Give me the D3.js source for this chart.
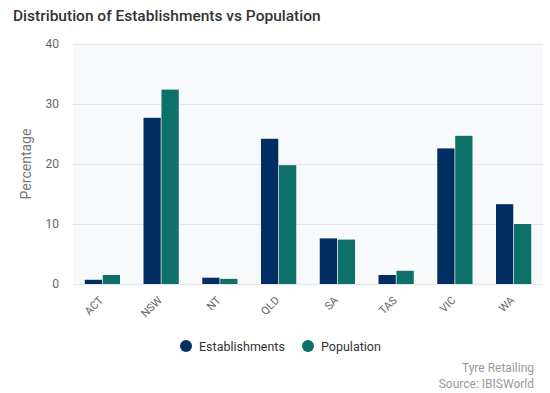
<!DOCTYPE html>
<html><head><meta charset="utf-8">
<script src="https://cdn.jsdelivr.net/npm/d3@7"></script>
<style>body{margin:0;background:#fff;font-family:Roboto,"Noto Sans",sans-serif;}</style>
</head><body>
<svg id="chart" width="550" height="393"></svg>
<script>
const categories = ["ACT","NSW","NT","QLD","SA","TAS","VIC","WA"];
const establishments = [0.7, 27.7, 1.05, 24.2, 7.6, 1.5, 22.6, 13.3];
const population = [1.5, 32.4, 0.85, 19.8, 7.4, 2.2, 24.7, 10.0];
const seriesNames = ["Establishments","Population"];
const seriesColors = ["#022e63","#0d7169"];
const yTicks = [0,10,20,30,40];

const svg = d3.select("#chart");
const m = {l:73, r:543, t:44, b:284};
const x = d3.scaleBand().domain(categories).range([m.l, m.r]).paddingInner(0.4).paddingOuter(0.2);
const xs = d3.scaleBand().domain(seriesNames).range([0, x.bandwidth()]).paddingInner(0.04);
const y = d3.scaleLinear().domain([0,40]).range([m.b, m.t]);

svg.append("rect").attr("x", m.l).attr("y", m.t).attr("width", m.r-m.l).attr("height", m.b-m.t).attr("fill","#f8f9fb");

svg.append("text").attr("x",13).attr("y",21).text("Distribution of Establishments vs Population")
  .attr("font-size",15.5).attr("font-weight",500).attr("fill","#333");

const ya = svg.append("g").attr("transform",`translate(${m.l},0)`)
  .call(d3.axisLeft(y).tickValues(yTicks).tickSize(-(m.r-m.l)).tickPadding(14));
ya.select(".domain").remove();
ya.selectAll(".tick line").attr("stroke","#e4e6ea");
ya.selectAll(".tick text").attr("font-size",12).attr("fill","#666").attr("font-family","Roboto,sans-serif");

svg.append("text").attr("transform","translate(31,164) rotate(-90)").attr("text-anchor","middle")
  .text("Percentage").attr("font-size",14).attr("fill","#777");

const data = categories.map((c,i)=>({c, vals:[establishments[i], population[i]]}));
const g = svg.append("g");
data.forEach(d=>{
  d.vals.forEach((v,j)=>{
    g.append("rect").attr("x", x(d.c)+xs(seriesNames[j])).attr("y", y(v))
      .attr("width", xs.bandwidth()).attr("height", y(0)-y(v))
      .attr("fill", seriesColors[j]);
  });
});

const xa = svg.append("g").attr("transform",`translate(0,${m.b})`).call(d3.axisBottom(x).tickSize(0).tickPadding(8));
xa.select(".domain").attr("stroke","#e4e6ea");
xa.selectAll(".tick text").attr("font-size",11).attr("fill","#666").attr("font-family","Roboto,sans-serif")
  .attr("text-anchor","end").attr("x",0).attr("y",0).attr("dx",0).attr("dy",0)
  .attr("transform","translate(1.5,17) rotate(-45)");

const legX = [186, 308];
seriesNames.forEach((s,j)=>{
  svg.append("circle").attr("cx",legX[j]).attr("cy",346).attr("r",6).attr("fill",seriesColors[j]);
  svg.append("text").attr("x",legX[j]+13).attr("y",350.5).text(s).attr("font-size",12.5).attr("fill","#333");
});

svg.append("text").attr("x",534).attr("y",372).attr("text-anchor","end").text("Tyre Retailing").attr("font-size",12).attr("fill","#999");
svg.append("text").attr("x",534).attr("y",388).attr("text-anchor","end").text("Source: IBISWorld").attr("font-size",12).attr("fill","#999");
</script>
</body></html>
